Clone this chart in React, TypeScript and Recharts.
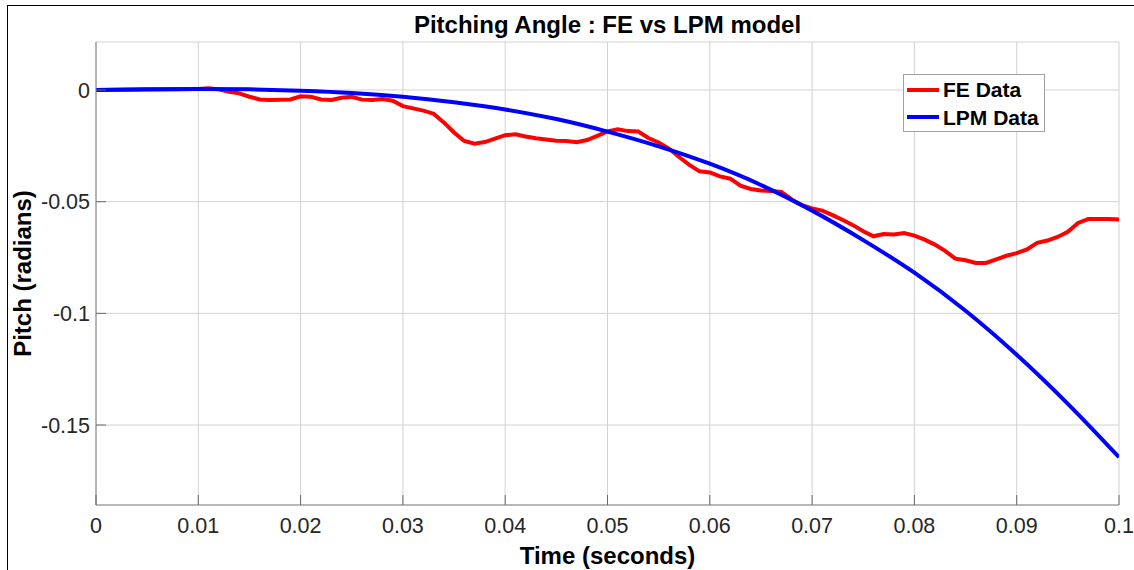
import React from 'react';
import { LineChart, Line, XAxis, YAxis, CartesianGrid } from 'recharts';

const feTime = [
  0, 0.005, 0.01, 0.011, 0.012, 0.013, 0.014, 0.015, 0.016, 0.017, 0.018, 0.019,
  0.02, 0.021, 0.022, 0.023, 0.024, 0.025, 0.026, 0.027, 0.028, 0.029,
  0.03, 0.031, 0.032, 0.033, 0.034, 0.035, 0.036, 0.037, 0.038, 0.039,
  0.04, 0.041, 0.042, 0.043, 0.044, 0.045, 0.046, 0.047, 0.048, 0.049,
  0.05, 0.051, 0.052, 0.053, 0.054, 0.055, 0.056, 0.057, 0.058, 0.059,
  0.06, 0.061, 0.062, 0.063, 0.064, 0.065, 0.066, 0.067, 0.068, 0.069,
  0.07, 0.071, 0.072, 0.073, 0.074, 0.075, 0.076, 0.077, 0.078, 0.079,
  0.08, 0.081, 0.082, 0.083, 0.084, 0.085, 0.086, 0.087, 0.088, 0.089,
  0.09, 0.091, 0.092, 0.093, 0.094, 0.095, 0.096, 0.097, 0.098, 0.099, 0.1,
];
const feValue = [
  0, 0.0002, 0.0005, 0.0008, 0.0003, -0.0008, -0.0015, -0.003, -0.0042, -0.0045, -0.0044, -0.0042,
  -0.0028, -0.003, -0.0042, -0.0045, -0.0035, -0.003, -0.0043, -0.0045, -0.004, -0.0048,
  -0.0072, -0.0082, -0.0092, -0.0106, -0.0145, -0.019, -0.0228, -0.024, -0.0233, -0.0218,
  -0.0202, -0.0198, -0.0208, -0.0216, -0.0222, -0.0227, -0.0228, -0.0234, -0.0224, -0.0205,
  -0.0185, -0.0176, -0.0184, -0.0186, -0.0215, -0.0235, -0.0262, -0.03, -0.0335, -0.0364,
  -0.0369, -0.0387, -0.0397, -0.0428, -0.0443, -0.045, -0.0452, -0.0456, -0.049, -0.0516,
  -0.053, -0.054, -0.056, -0.0582, -0.0605, -0.0632, -0.0655, -0.0645, -0.0647, -0.064,
  -0.0652, -0.067, -0.0692, -0.072, -0.0755, -0.0762, -0.0774, -0.0774, -0.0758, -0.0742,
  -0.073, -0.0714, -0.0684, -0.0674, -0.0658, -0.0635, -0.0595, -0.0578, -0.0577, -0.0578, -0.058,
];

const lpmTime = [
  0, 0.005, 0.01, 0.015, 0.02, 0.025, 0.03, 0.035, 0.04, 0.045, 0.05,
  0.055, 0.06, 0.065, 0.07, 0.075, 0.08, 0.085, 0.09, 0.095, 0.1,
];
const lpmValue = [
  0, 0.0003, 0.0005, 0.0003, -0.0003, -0.0013, -0.003, -0.0055, -0.0087, -0.013, -0.0186,
  -0.0252, -0.033, -0.0425, -0.054, -0.0672, -0.0818, -0.0988, -0.1185, -0.1405, -0.1644,
];

const xTicks = [0, 0.01, 0.02, 0.03, 0.04, 0.05, 0.06, 0.07, 0.08, 0.09, 0.1];
const yTicks = [-0.15, -0.1, -0.05, 0];

const seriesNames = ['FE Data', 'LPM Data'];
const seriesColors = ['#ff0000', '#0000ff'];

const feData = feTime.map((t, i) => ({ t, v: feValue[i] }));
const lpmData = lpmTime.map((t, i) => ({ t, v: lpmValue[i] }));

const FONT = '"Liberation Sans", Arial, Helvetica, sans-serif';
const TICK_COLOR = '#6a6a6a';
const TICK_LEN = 10;

const BottomTick = (props: any) => {
  const { x, y, payload } = props;
  const axisY = y - 13;
  return (
    <g>
      <line x1={x} y1={axisY} x2={x} y2={axisY - TICK_LEN} stroke={TICK_COLOR} strokeWidth={1} />
      <text x={x} y={y} dy="0.71em" textAnchor="middle" fill="#262626" fontSize={21.5} fontFamily={FONT}>
        {String(payload.value)}
      </text>
    </g>
  );
};

const LeftTick = (props: any) => {
  const { x, y, payload } = props;
  const axisX = x + 6;
  return (
    <g>
      <line x1={axisX} y1={y} x2={axisX + TICK_LEN} y2={y} stroke={TICK_COLOR} strokeWidth={1} />
      <text x={x} y={y} dy="0.355em" textAnchor="end" fill="#262626" fontSize={21.5} fontFamily={FONT}>
        {String(payload.value)}
      </text>
    </g>
  );
};

const TopTick = (props: any) => {
  const { x, y } = props;
  return <line x1={x} y1={y} x2={x} y2={y + TICK_LEN} stroke={TICK_COLOR} strokeWidth={1} />;
};

const RightTick = (props: any) => {
  const { x, y } = props;
  return <line x1={x} y1={y} x2={x - TICK_LEN} y2={y} stroke={TICK_COLOR} strokeWidth={1} />;
};

const LegendBox = () => (
  <div
    style={{
      position: 'absolute',
      left: 903,
      top: 74,
      width: 142,
      height: 58,
      boxSizing: 'border-box',
      border: '1px solid #a0a0a0',
      background: '#ffffff',
      fontFamily: FONT,
      fontWeight: 'bold',
      fontSize: 21,
      color: '#000',
      paddingTop: 1,
    }}
  >
    {seriesNames.map((name, i) => (
      <div key={name} style={{ display: 'flex', alignItems: 'center', height: 27.5, lineHeight: '27px' }}>
        <div style={{ width: 32, height: 4, background: seriesColors[i], marginLeft: 3, marginRight: 4 }} />
        <span>{name}</span>
      </div>
    ))}
  </div>
);

export default function App() {
  return (
    <div style={{ position: 'absolute', left: 0, top: 0, width: 1134, height: 570, background: '#fff', overflow: 'hidden' }}>
      <div
        style={{
          position: 'absolute',
          left: 7,
          top: 5,
          width: 1140,
          height: 600,
          borderTop: '1.5px solid #000',
          borderLeft: '1.5px solid #000',
        }}
      />
      <div
        style={{
          position: 'absolute',
          left: 96,
          width: 1023,
          top: 11,
          textAlign: 'center',
          fontFamily: FONT,
          fontWeight: 'bold',
          fontSize: 24,
          lineHeight: '28px',
          color: '#000',
        }}
      >
        Pitching Angle : FE vs LPM model
      </div>
      <LineChart
        width={1134}
        height={570}
        margin={{ top: 42, right: 15, left: 0, bottom: 0 }}
        style={{ position: 'absolute', left: 0, top: 0 }}
      >
        <CartesianGrid stroke="#d2d2d2" strokeWidth={1} />
        <XAxis
          dataKey="t"
          type="number"
          domain={[0, 0.1]}
          ticks={xTicks}
          allowDataOverflow
          height={65}
          tickSize={0}
          tickMargin={13}
          axisLine={{ stroke: '#b8b8b8', strokeWidth: 2 }}
          tick={BottomTick}
          interval={0}
          label={{
            value: 'Time (seconds)',
            position: 'insideBottom',
            offset: 6,
            style: { fontFamily: FONT, fontWeight: 'bold', fontSize: 24, fill: '#000' },
          }}
        />
        <XAxis
          xAxisId="top"
          orientation="top"
          dataKey="t"
          type="number"
          domain={[0, 0.1]}
          ticks={xTicks}
          allowDataOverflow
          height={0}
          tickSize={0}
          tickMargin={0}
          axisLine={{ stroke: '#aaaaaa', strokeWidth: 1.5 }}
          tick={TopTick}
          interval={0}
        />
        <YAxis
          type="number"
          domain={[-0.1858, 0.0215]}
          ticks={yTicks}
          allowDataOverflow
          width={96}
          tickSize={0}
          tickMargin={6}
          axisLine={{ stroke: '#808080', strokeWidth: 1 }}
          tick={LeftTick}
          interval={0}
          label={{
            value: 'Pitch (radians)',
            angle: -90,
            position: 'insideLeft',
            offset: 22,
            style: { fontFamily: FONT, fontWeight: 'bold', fontSize: 24, fill: '#000', textAnchor: 'middle' },
          }}
        />
        <YAxis
          yAxisId="right"
          orientation="right"
          type="number"
          domain={[-0.1858, 0.0215]}
          ticks={yTicks}
          allowDataOverflow
          width={0}
          tickSize={0}
          tickMargin={0}
          axisLine={{ stroke: '#808080', strokeWidth: 1 }}
          tick={RightTick}
          interval={0}
        />
        <Line
          data={feData}
          dataKey="v"
          name={seriesNames[0]}
          type="linear"
          stroke={seriesColors[0]}
          strokeWidth={4}
          dot={false}
          activeDot={false}
          isAnimationActive={false}
        />
        <Line
          data={lpmData}
          dataKey="v"
          name={seriesNames[1]}
          type="monotone"
          stroke={seriesColors[1]}
          strokeWidth={4}
          dot={false}
          activeDot={false}
          isAnimationActive={false}
        />
      </LineChart>
      <LegendBox />
    </div>
  );
}
